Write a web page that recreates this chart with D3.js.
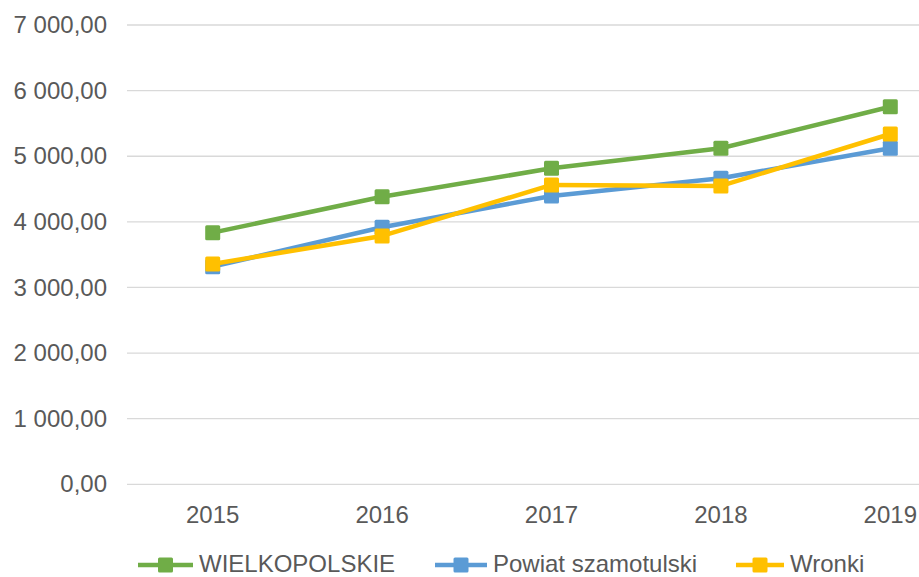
<!DOCTYPE html>
<html><head><meta charset="utf-8">
<script src="https://cdn.jsdelivr.net/npm/d3@7"></script>
<style>body{margin:0;background:#fff;}svg{display:block;font-family:"Liberation Sans",Arial,sans-serif;}</style>
</head><body>
<svg id="c" width="919" height="577"></svg>
<script>
const years = ["2015","2016","2017","2018","2019"];
const wielkopolskie = [3835, 4383, 4816, 5121, 5755];
const powiat = [3317, 3917, 4394, 4664, 5121];
const wronki = [3358, 3785, 4562, 4547, 5339];
const yTicks = [0,1000,2000,3000,4000,5000,6000,7000];
const seriesNames = ["WIELKOPOLSKIE","Powiat szamotulski","Wronki"];
const seriesColors = ["#70AD47","#5B9BD5","#FFC000"];

const series = [
  {name: seriesNames[0], color: seriesColors[0], values: wielkopolskie},
  {name: seriesNames[1], color: seriesColors[1], values: powiat},
  {name: seriesNames[2], color: seriesColors[2], values: wronki}
];

const svg = d3.select("#c");
const x = d3.scaleBand().domain(years).range([128, 975]);
const y = d3.scaleLinear().domain([0,7000]).range([484.3, 25]);
const fmt = v => d3.format(",.2f")(v).replace(/,/g," ").replace(".",",");

// gridlines
svg.append("g").selectAll("line").data(yTicks).join("line")
  .attr("x1",127).attr("x2",919)
  .attr("y1",d=>y(d)).attr("y2",d=>y(d))
  .attr("stroke","#d9d9d9").attr("stroke-width",1.3);

// y axis labels
const yAxis = d3.axisLeft(y).tickValues(yTicks).tickFormat(fmt).tickSize(0).tickPadding(0);
const gy = svg.append("g").attr("transform","translate(107,0)").call(yAxis);
gy.select(".domain").remove();
gy.selectAll("text").attr("font-size",24).attr("fill","#595959").attr("font-family","Liberation Sans, Arial, sans-serif");

// x axis labels
const xAxis = d3.axisBottom(x).tickSize(0).tickPadding(0);
const gx = svg.append("g").attr("transform","translate(0,506)").call(xAxis);
gx.select(".domain").remove();
gx.selectAll("text").attr("font-size",24).attr("fill","#595959").attr("font-family","Liberation Sans, Arial, sans-serif");

const cx = d => x(d) + x.bandwidth()/2;
const line = d3.line().x((d,i)=>cx(years[i])).y(d=>y(d));

series.forEach(s => {
  svg.append("path").datum(s.values).attr("d",line)
    .attr("fill","none").attr("stroke",s.color).attr("stroke-width",4.5).attr("stroke-linejoin","round");
  svg.append("g").selectAll("rect").data(s.values).join("rect")
    .attr("x",(d,i)=>cx(years[i])-7.5).attr("y",d=>y(d)-7.5)
    .attr("width",15).attr("height",15).attr("rx",1.5)
    .attr("fill",s.color);
});

// legend
const legX = [138, 435, 736];
const legW = [55, 52, 48];
const lg = svg.append("g");
series.forEach((s,i) => {
  const w = legW[i];
  const g = lg.append("g").attr("transform",`translate(${legX[i]},565)`);
  g.append("line").attr("x1",0).attr("x2",w).attr("y1",0).attr("y2",0)
    .attr("stroke",s.color).attr("stroke-width",4.5);
  g.append("rect").attr("x",w/2-7.5).attr("y",-7.5).attr("width",15).attr("height",15).attr("rx",1.5).attr("fill",s.color);
  g.append("text").attr("x",w+6).attr("y",7).attr("font-size",24).attr("fill","#595959").text(s.name);
});
</script>
</body></html>
